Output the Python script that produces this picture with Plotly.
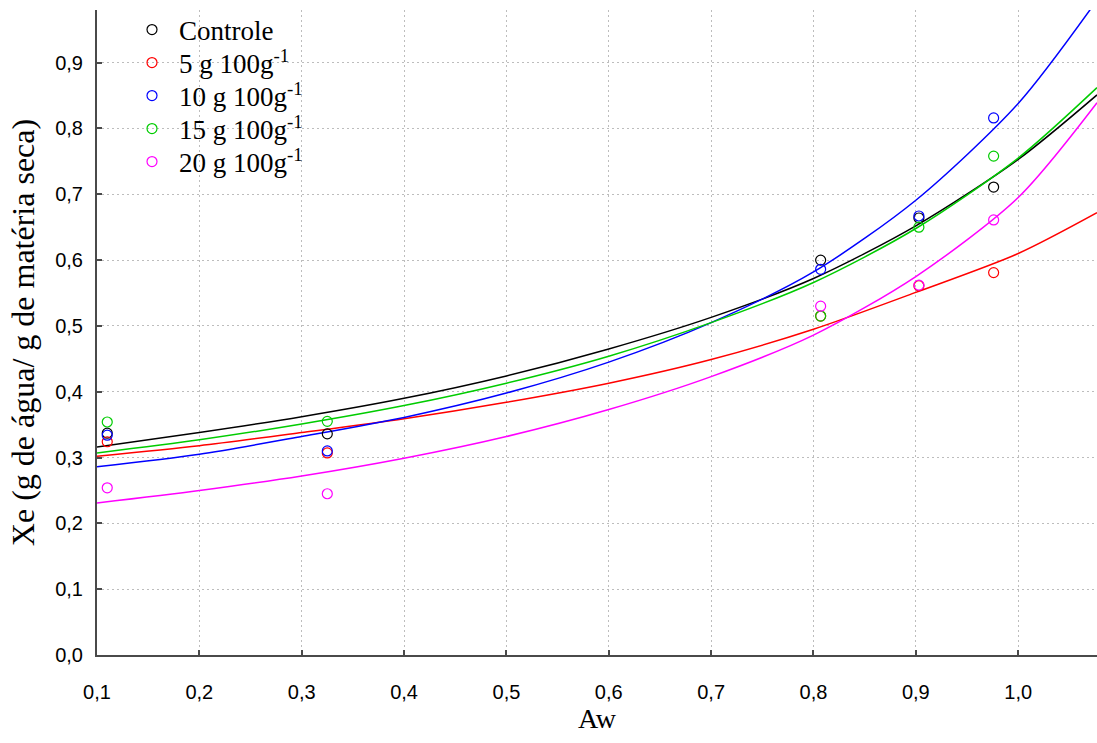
import plotly.graph_objects as go

# Measured points
aw = [0.11, 0.325, 0.807, 0.903, 0.976]
xe_controle = [0.337, 0.336, 0.600, 0.664, 0.711]
xe_5g = [0.324, 0.307, 0.515, 0.561, 0.581]
xe_10g = [0.334, 0.310, 0.586, 0.667, 0.816]
xe_15g = [0.354, 0.355, 0.515, 0.650, 0.758]
xe_20g = [0.254, 0.245, 0.530, 0.562, 0.661]

# Fitted curves
aw_fit = [0.1, 0.2, 0.3, 0.4, 0.5, 0.6, 0.7, 0.8, 0.9, 1.0, 1.077]
fit_controle = [0.316, 0.338, 0.362, 0.390, 0.424, 0.465, 0.513, 0.572, 0.652, 0.753, 0.851]
fit_5g = [0.302, 0.318, 0.338, 0.359, 0.384, 0.413, 0.449, 0.495, 0.551, 0.610, 0.672]
fit_10g = [0.286, 0.305, 0.332, 0.361, 0.398, 0.445, 0.505, 0.582, 0.691, 0.838, 0.995]
fit_15g = [0.307, 0.327, 0.351, 0.379, 0.413, 0.454, 0.505, 0.566, 0.648, 0.755, 0.862]
fit_20g = [0.231, 0.250, 0.272, 0.299, 0.332, 0.373, 0.423, 0.486, 0.575, 0.695, 0.839]

names = ["Controle", "5 g 100g<sup>-1</sup>", "10 g 100g<sup>-1</sup>",
         "15 g 100g<sup>-1</sup>", "20 g 100g<sup>-1</sup>"]
colors = ["#000000", "#ff0000", "#0000ff", "#00cc00", "#ff00ff"]
points = [xe_controle, xe_5g, xe_10g, xe_15g, xe_20g]
fits = [fit_controle, fit_5g, fit_10g, fit_15g, fit_20g]
legend_ids = ["legend", "legend2", "legend3", "legend4", "legend5"]

fig = go.Figure()
for f, c in zip(fits, colors):
    fig.add_trace(go.Scatter(x=aw_fit, y=f, mode="lines", showlegend=False,
                             line=dict(color=c, width=1.5, shape="spline", smoothing=0.8),
                             hoverinfo="skip"))
for n, p, c, lg in zip(names, points, colors, legend_ids):
    fig.add_trace(go.Scatter(x=aw, y=p, mode="markers", name=n, legend=lg,
                             marker=dict(symbol="circle-open", size=10, color=c,
                                         line=dict(width=1.2, color=c))))

axis_common = dict(showline=True, linecolor="#4a4a4a", linewidth=2,
                   ticks="inside", ticklen=5, tickcolor="#4a4a4a", tickwidth=1.5,
                   showgrid=True, gridcolor="#bdbdbd", griddash="2px,3px", gridwidth=1,
                   zeroline=False, mirror=False,
                   tickfont=dict(family="Liberation Sans, Arial", size=20, color="#000000"),
                   tickformat=".1f")

fig.update_xaxes(range=[0.1, 1.077], dtick=0.1, tick0=0.1, ticklabelstandoff=18, **axis_common,
                 title=dict(text="Aw", font=dict(family="Liberation Serif, Times New Roman", size=28, color="#000"),
                            standoff=6))
fig.update_yaxes(range=[0, 0.98], dtick=0.1, tick0=0, ticklabelstandoff=8, **axis_common,
                 title=dict(text="Xe (g de água/ g de matéria seca)",
                            font=dict(family="Liberation Serif, Times New Roman", size=32, color="#000"),
                            standoff=11))

legend_font = dict(family="Liberation Serif, Times New Roman", size=27, color="#000")
item_px = [30, 63, 96, 129, 162]
layout_legends = {}
for lg, py in zip(legend_ids, item_px):
    layout_legends[lg] = dict(x=0.028, y=(655 - py) / 645, xanchor="left", yanchor="middle",
                              bgcolor="rgba(0,0,0,0)", font=legend_font, itemwidth=44)

fig.update_layout(
    width=1097, height=743,
    margin=dict(l=97, r=0, t=10, b=88),
    paper_bgcolor="white", plot_bgcolor="white",
    separators=",.",
    showlegend=True,
    **layout_legends,
)

fig.write_html("out.html")
